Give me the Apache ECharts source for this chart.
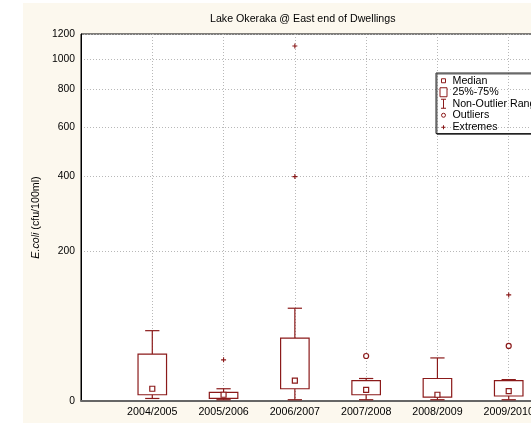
<!DOCTYPE html>
<html>
<head>
<meta charset="utf-8">
<script src="https://cdn.jsdelivr.net/npm/echarts@6/dist/echarts.min.js"></script>
<style>
  html, body { margin: 0; padding: 0; background: #fff; }
  #wrap { position: relative; width: 531px; height: 423px; overflow: hidden; background: #fff; }
  #panel { position: absolute; left: 23px; top: 3px; right: 0; bottom: 0; background: #fcf8ee; }
  #chart { position: absolute; left: 0; top: 0; width: 531px; height: 423px; }
</style>
</head>
<body>
<div id="wrap"><div id="panel"></div><div id="chart"></div></div>
<script>
// Sampling seasons
const categories = ['2004/2005', '2005/2006', '2006/2007', '2007/2008', '2008/2009', '2009/2010'];

// Box statistics per season (cfu/100ml)
const minValues    = [2, 1, 1, 1, 1, 1];
const q1Values     = [5, 2, 10, 5, 3, 4];
const medianValues = [10, 5, 17, 9, 5, 8];
const q3Values     = [43, 7, 61, 17, 19, 17];
const maxValues    = [70, 10, 100, 19, 39, 18];

// Outliers and extremes
const outlierSeasons = ['2007/2008', '2009/2010'];
const outlierValues  = [41, 52];
const extremeSeasons = ['2005/2006', '2006/2007', '2006/2007', '2009/2010'];
const extremeValues  = [37, 400, 1100, 120];

// Value-axis tick labels
const yTickLabels = [0, 200, 400, 600, 800, 1000, 1200];

// The value axis is drawn on a shifted log scale: ln((v + c) / c)
const SCALE_OFFSET = 120;
const toAxis = v => Math.log((v + SCALE_OFFSET) / SCALE_OFFSET);
const fromAxis = t => SCALE_OFFSET * Math.exp(t) - SCALE_OFFSET;

const RED = '#8b1a1a';
const FONT = '"Liberation Sans", Arial, sans-serif';
const BOX_RATIO = 0.4;
const CAP_RATIO = 0.2;

const seasonPos = name => categories.indexOf(name) + 1;

const boxData = categories.map((c, i) => [i + 1, toAxis(q1Values[i]), toAxis(q3Values[i])]);
const whiskerData = categories.map((c, i) => [
  i + 1, toAxis(minValues[i]), toAxis(q1Values[i]), toAxis(q3Values[i]), toAxis(maxValues[i])
]);
const medianData = categories.map((c, i) => [i + 1, toAxis(medianValues[i])]);
const outlierData = outlierSeasons.map((s, i) => [seasonPos(s), toAxis(outlierValues[i])]);
const extremeData = extremeSeasons.map((s, i) => [seasonPos(s), toAxis(extremeValues[i])]);
const yTickPositions = yTickLabels.map(toAxis);

const chart = echarts.init(document.getElementById('chart'), null, { renderer: 'canvas' });

const option = {
  backgroundColor: 'transparent',
  animation: false,
  textStyle: { fontFamily: FONT },
  title: {
    text: 'Lake Okeraka @ East end of Dwellings',
    left: 210,
    top: 14,
    padding: 0,
    textStyle: { fontFamily: FONT, fontSize: 10.67, fontWeight: 'normal', color: '#000' }
  },
  legend: {
    orient: 'vertical',
    left: 436,
    top: 73,
    padding: [2, 4, 1, 3],
    itemWidth: 8,
    itemHeight: 10,
    itemGap: 0,
    borderColor: '#222',
    borderWidth: 1,
    shadowColor: 'rgba(60,60,60,0.8)',
    shadowBlur: 0,
    shadowOffsetX: 1,
    shadowOffsetY: 1,
    selectedMode: false,
    textStyle: { fontFamily: FONT, fontSize: 10.67, color: '#000', lineHeight: 11.5 },
    data: [
      { name: 'Median', icon: 'path://M0,0M8,10M2,3H6V7H2Z',
        itemStyle: { color: '#fff', borderColor: RED, borderWidth: 1 } },
      { name: '25%-75%', icon: 'path://M0,0M8,10M0.5,0.5H7.5V9.5H0.5Z',
        itemStyle: { color: '#fff', borderColor: RED, borderWidth: 1 } },
      { name: 'Non-Outlier Range', icon: 'path://M0,0M8,10M1.5,0.5H6.5M4,0.5V9.5M1.5,9.5H6.5',
        itemStyle: { color: 'rgba(0,0,0,0)', borderColor: RED, borderWidth: 1 } },
      { name: 'Outliers', icon: 'path://M0,0M8,10M6,5A2,2,0,1,1,2,5A2,2,0,1,1,6,5Z',
        itemStyle: { color: '#fff', borderColor: RED, borderWidth: 1 } },
      { name: 'Extremes', icon: 'path://M0,0M8,10M2,5.5H6M4,3.5V7.5',
        itemStyle: { color: 'rgba(0,0,0,0)', borderColor: RED, borderWidth: 1 } }
    ]
  },
  grid: {
    left: 81,
    top: 34,
    right: -49,
    bottom: 22,
    show: true,
    backgroundColor: '#fff',
    borderColor: '#000',
    borderWidth: 1,
    containLabel: false,
    outerBoundsMode: 'none'
  },
  xAxis: {
    type: 'value',
    min: 0,
    max: 7,
    interval: 1,
    axisLine: { show: true, onZero: false, lineStyle: { color: '#666', width: 2 } },
    axisTick: { show: false },
    axisLabel: {
      margin: 6,
      fontFamily: FONT,
      fontSize: 10.67,
      color: '#000',
      formatter: v => categories[v - 1] || ''
    },
    splitLine: { show: true, lineStyle: { color: '#b8b8b8', width: 1, type: [1, 2] } }
  },
  yAxis: {
    type: 'value',
    min: 0,
    max: toAxis(1200),
    axisLine: { show: true, lineStyle: { color: '#000', width: 1 } },
    axisTick: { show: false, customValues: yTickPositions },
    axisLabel: {
      margin: 6,
      fontFamily: FONT,
      fontSize: 10.3,
      color: '#000',
      customValues: yTickPositions,
      formatter: t => String(Math.round(fromAxis(t)))
    },
    splitLine: { show: true, lineStyle: { color: '#b8b8b8', width: 1, type: [1, 2] } },
    name: '{i|E.coli} (cfu/100ml)',
    nameLocation: 'middle',
    nameGap: 37,
    nameRotate: 90,
    nameTextStyle: {
      fontFamily: FONT, fontSize: 10.67, color: '#000',
      rich: { i: { fontFamily: FONT, fontSize: 10.67, color: '#000', fontStyle: 'italic' } }
    }
  },
  series: [
    {
      name: 'Non-Outlier Range',
      type: 'custom',
      itemStyle: { color: RED },
      data: whiskerData,
      encode: { x: 0, y: [1, 2, 3, 4] },
      renderItem: (params, api) => {
        const x = api.value(0);
        const pMin = api.coord([x, api.value(1)]);
        const pQ1 = api.coord([x, api.value(2)]);
        const pQ3 = api.coord([x, api.value(3)]);
        const pMax = api.coord([x, api.value(4)]);
        const half = api.size([1, 0])[0] * CAP_RATIO / 2;
        const style = { stroke: RED, lineWidth: 1.2 };
        return {
          type: 'group',
          children: [
            { type: 'line', shape: { x1: pMin[0], y1: pMin[1], x2: pQ1[0], y2: pQ1[1] }, style },
            { type: 'line', shape: { x1: pQ3[0], y1: pQ3[1], x2: pMax[0], y2: pMax[1] }, style },
            { type: 'line', shape: { x1: pMin[0] - half, y1: pMin[1], x2: pMin[0] + half, y2: pMin[1] }, style },
            { type: 'line', shape: { x1: pMax[0] - half, y1: pMax[1], x2: pMax[0] + half, y2: pMax[1] }, style }
          ]
        };
      }
    },
    {
      name: '25%-75%',
      type: 'custom',
      itemStyle: { color: RED },
      data: boxData,
      encode: { x: 0, y: [1, 2] },
      renderItem: (params, api) => {
        const x = api.value(0);
        const lo = api.coord([x, api.value(1)]);
        const hi = api.coord([x, api.value(2)]);
        const w = api.size([1, 0])[0] * BOX_RATIO;
        return {
          type: 'rect',
          shape: { x: lo[0] - w / 2, y: hi[1], width: w, height: lo[1] - hi[1] },
          style: { fill: '#fff', stroke: RED, lineWidth: 1.2 }
        };
      }
    },
    {
      name: 'Median',
      type: 'scatter',
      data: medianData,
      symbol: 'rect',
      symbolSize: 5,
      itemStyle: { color: '#fff', borderColor: RED, borderWidth: 1.2, opacity: 1 }
    },
    {
      name: 'Outliers',
      type: 'scatter',
      data: outlierData,
      symbol: 'circle',
      symbolSize: 5,
      itemStyle: { color: '#fff', borderColor: RED, borderWidth: 1.2, opacity: 1 }
    },
    {
      name: 'Extremes',
      type: 'scatter',
      data: extremeData,
      symbol: 'path://M0,2H4M2,0V4',
      symbolSize: 5,
      itemStyle: { color: RED, borderColor: RED, borderWidth: 1.1, opacity: 1 }
    }
  ]
};

chart.setOption(option);
</script>
</body>
</html>
